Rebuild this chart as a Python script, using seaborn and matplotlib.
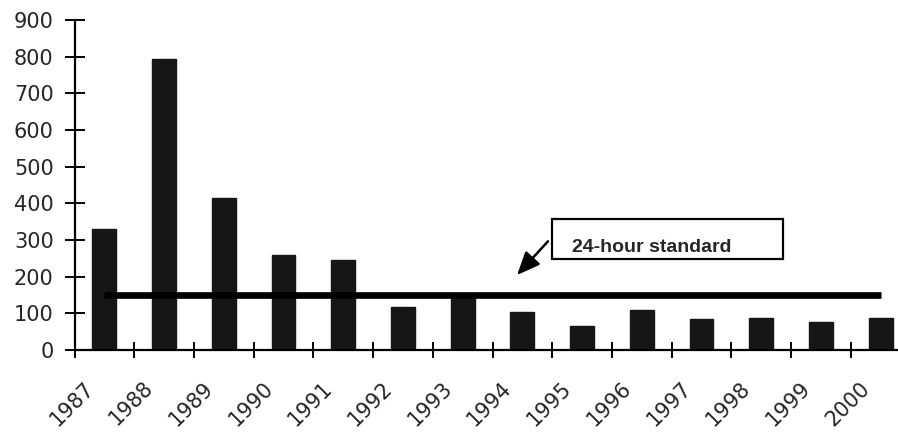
import numpy as np
import matplotlib
matplotlib.use("Agg")
import matplotlib.pyplot as plt
from matplotlib.patches import Rectangle
import seaborn as sns

# values
years = ['1987', '1988', '1989', '1990', '1991', '1992', '1993',
         '1994', '1995', '1996', '1997', '1998', '1999', '2000']
values = [330, 793, 414, 258, 246, 118, 148, 103, 66, 108, 84, 86, 77, 88]
standard = 150
standard_label = '24-hour standard'
y_ticks = [0, 100, 200, 300, 400, 500, 600, 700, 800, 900]

sns.set_style('white')
plt.rcParams['font.family'] = ['DejaVu Sans']

fig = plt.figure(figsize=(8.98, 4.37), dpi=100)
ax = fig.add_axes([0.083, 0.1991, 0.917, 0.7551])

sns.barplot(x=years, y=values, color='#161616', saturation=1, width=0.4,
            edgecolor='#161616', ax=ax)

# standard line from first to last year
xs = np.arange(len(years))
ax.plot(xs, [standard] * len(years), color='black', lw=4.8, solid_capstyle='butt', zorder=3)

ax.set_ylim(0, 900)
ax.set_xlim(-0.5, 13.29)
ax.set_yticks(y_ticks)
ax.set_yticklabels([str(t) for t in y_ticks], fontsize=15)
ax.tick_params(axis='y', left=True, direction='inout', length=14, width=1.4, pad=8, color='black')

# labels slightly left of bar centres, tick marks between categories
ax.set_xticks(xs - 0.35)
ax.set_xticklabels(years, fontsize=15, rotation=45, ha='right', rotation_mode='anchor')
ax.set_xticks(np.arange(-0.5, len(years) - 0.5, 1), minor=True)
ax.tick_params(axis='x', which='major', bottom=True, length=0, pad=20)
ax.tick_params(axis='x', which='minor', bottom=True, direction='inout', length=11,
               width=1.4, color='black')

ax.set_xlabel('')
ax.set_ylabel('')
sns.despine(ax=ax)
for side in ['left', 'bottom']:
    ax.spines[side].set_linewidth(1.6)
    ax.spines[side].set_color('black')

# callout box with arrow
box = Rectangle((7.5, 248), 3.87, 109, facecolor='white',
                edgecolor='black', lw=1.6, zorder=4, clip_on=False)
ax.add_patch(box)
txt = ax.text(7.83, 268, standard_label, fontsize=14, fontfamily='Liberation Sans',
              fontweight='bold', va='baseline', ha='left', zorder=5)
txt.set_clip_path(box)
ax.annotate('', xy=(6.88, 199), xytext=(7.46, 302),
            arrowprops=dict(arrowstyle='-|>,head_length=1.4,head_width=0.6',
                            color='black', lw=1.8), zorder=5)

fig.savefig('out.png', dpi=100)
